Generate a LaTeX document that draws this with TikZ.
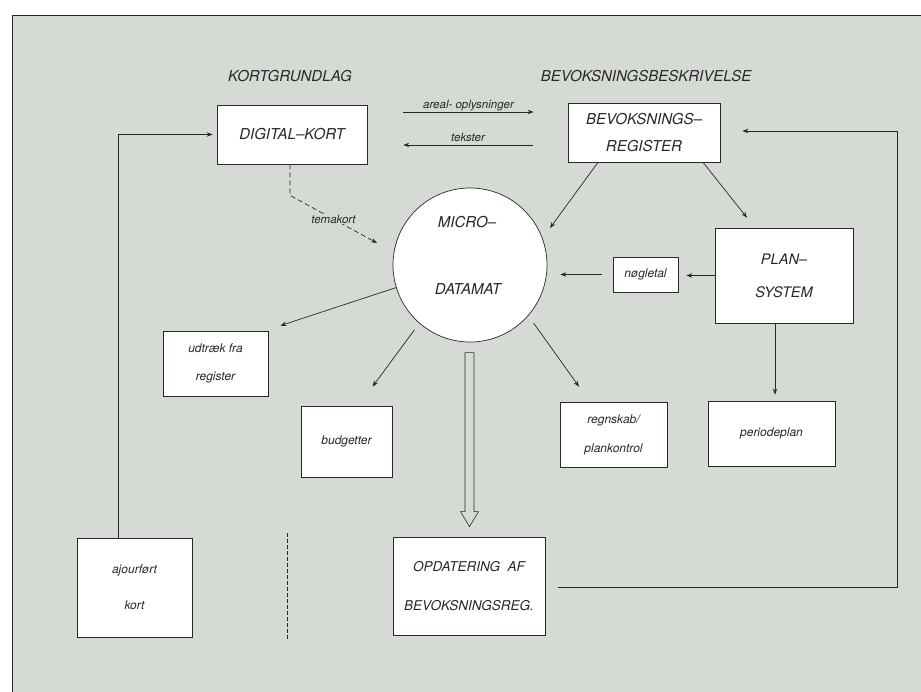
\documentclass[tikz,border=0pt]{standalone}
\usepackage{fontspec}
\setmainfont{TeX Gyre Heros}
\usetikzlibrary{calc,arrows.meta}
\definecolor{bg}{RGB}{214,218,213}
\definecolor{ink}{RGB}{40,40,40}
\begin{document}
\begin{tikzpicture}[x=1pt,y=-1pt,
  box/.style={draw=ink, line width=0.7pt, fill=white, inner sep=0pt, text=ink, align=center},
  hdr/.style={font=\fontsize{15}{18}\selectfont\itshape, text=ink},
  lbl/.style={font=\fontsize{11.5}{13}\selectfont\itshape, text=ink, inner sep=1pt},
  arr/.style={draw=ink, line width=0.7pt, -{Stealth[length=6pt,width=4.5pt]}},
]
\useasboundingbox (0,0) rectangle (921,692);
% background sheet
\fill[bg] (12,15) rectangle (921,692);
\draw[ink, line width=0.8pt] (12,692) -- (12,15) -- (921,15);

% headers
\node[hdr] (h1) at (290,76) {KORTGRUNDLAG};
\node[hdr] (h2) at (646,76) {BEVOKSNINGSBESKRIVELSE};

% boxes
\node[box, minimum width=150pt, minimum height=59pt, font=\fontsize{15}{18}\selectfont\itshape] (dk) at (292,134.5) {DIGITAL--KORT};
\node[box, minimum width=152pt, minimum height=59pt, font=\fontsize{15}{27}\selectfont\itshape] (br) at (644,132.5) {BEVOKSNINGS--\\REGISTER};
\node[draw=ink, line width=0.7pt, fill=white, circle, minimum size=154pt, inner sep=0pt] (mc) at (470,265) {};
\node[hdr] (mc1) at (467,222) {MICRO--};
\node[hdr] (mc2) at (468,289) {DATAMAT};
\node[box, minimum width=138pt, minimum height=95pt, font=\fontsize{14.5}{33}\selectfont\itshape] (ps) at (784,275.5) {PLAN--\\SYSTEM};
\node[box, minimum width=65pt, minimum height=35pt, font=\fontsize{12}{14}\selectfont\itshape] (ng) at (645.5,274.5) {nøgletal};
\node[box, minimum width=105pt, minimum height=65pt, font=\fontsize{12}{28}\selectfont\itshape] (ud) at (215.5,363.5) {udtræk fra\\register};
\node[box, minimum width=91pt, minimum height=71pt, font=\fontsize{12}{14}\selectfont\itshape] (bu) at (346.5,441.5) {budgetter};
\node[box, minimum width=107pt, minimum height=65pt, font=\fontsize{12}{29}\selectfont\itshape] (rk) at (613.5,434.5) {regnskab/\\plankontrol};
\node[box, minimum width=127pt, minimum height=65pt, font=\fontsize{12}{14}\selectfont\itshape] (pp) at (771.5,433.5) {periodeplan};
\node[box, minimum width=152pt, minimum height=98pt, font=\fontsize{13.5}{39}\selectfont\itshape] (op) at (469,586) {OPDATERING\ \ AF\\BEVOKSNINGSREG.};
\node[box, minimum width=115pt, minimum height=99pt, font=\fontsize{12}{36}\selectfont\itshape] (aj) at (134.5,587.5) {ajourført\\kort};

% arrows between DIGITAL-KORT and BEVOKSNINGSREGISTER
\draw[arr] ($(dk.east)+(36,-22.5)$) -- node[lbl, above]{areal- oplysninger} ($(br.west)+(-34,-20.5)$);
\draw[arr] ($(br.west)+(-35,12.5)$) -- node[lbl, above=2pt]{tekster} ($(dk.east)+(36,10.5)$);

% temakort
\coordinate (tk1) at ($(dk.south)+(-2,31)$);
\coordinate (tk2) at (377,243);
\draw[arr, dashed, dash pattern=on 5pt off 3pt] (dk.south -| tk1) -- (tk1) -- node[lbl, fill=bg, inner sep=0.5pt]{temakort} (tk2);

% register -> micro, register -> plan
\draw[arr] ($(br.south)+(-46,0)$) -- ($(mc.center)+(80,-37)$);
\draw[arr] ($(br.south)+(59,0)$) -- ($(ps.north)+(-37,-10)$);

% plan -> noegletal -> micro
\draw[arr, shorten >=8pt] (ps.west) -- (ps.west -| ng.east);
\draw[arr, shorten <=11pt, shorten >=13pt] (ng.west) -- (ng.west -| mc.east);

% micro -> outputs
\draw[arr] (mc.197) -- ($(ud.north east)+(12,-5)$);
\draw[arr, shorten <=8pt] (mc.229) -- ($(bu.north)+(26,-19)$);
\draw[arr, shorten <=9pt] (mc.319) -- ($(rk.north)+(-34.5,-15)$);

% plan -> periodeplan
\draw[arr] ($(ps.south)+(-9,0)$) -- ($(pp.north)+(3.5,-6)$);

% hollow arrow micro -> opdatering
\coordinate (tip) at ($(op.north)+(0.5,-10)$);
\draw[ink, line width=0.6pt] ($(tip)+(-4.5,-174)$) -- ($(tip)+(-4.5,-15)$) -- ($(tip)+(-9,-15)$) -- (tip) -- ($(tip)+(9,-15)$) -- ($(tip)+(4.5,-15)$) -- ($(tip)+(4.5,-174)$) -- cycle;

% ajourfoert kort -> digital-kort
\draw[arr] ($(aj.north)+(-16.5,0)$) |- ($(dk.west)+(-4,0)$);

% opdatering -> bevoksningsregister (feedback loop)
\coordinate (fb) at (897,587);
\draw[arr] ($(op.east)+(13,1)$) -- (fb) |- ($(br.east)+(22,-1.5)$);

% dashed vertical line
\coordinate (d1) at (287,533);
\coordinate (d2) at (287,640);
\draw[ink, line width=0.6pt, dash pattern=on 4pt off 2pt] (d1) -- (d2);
\end{tikzpicture}
\end{document}
